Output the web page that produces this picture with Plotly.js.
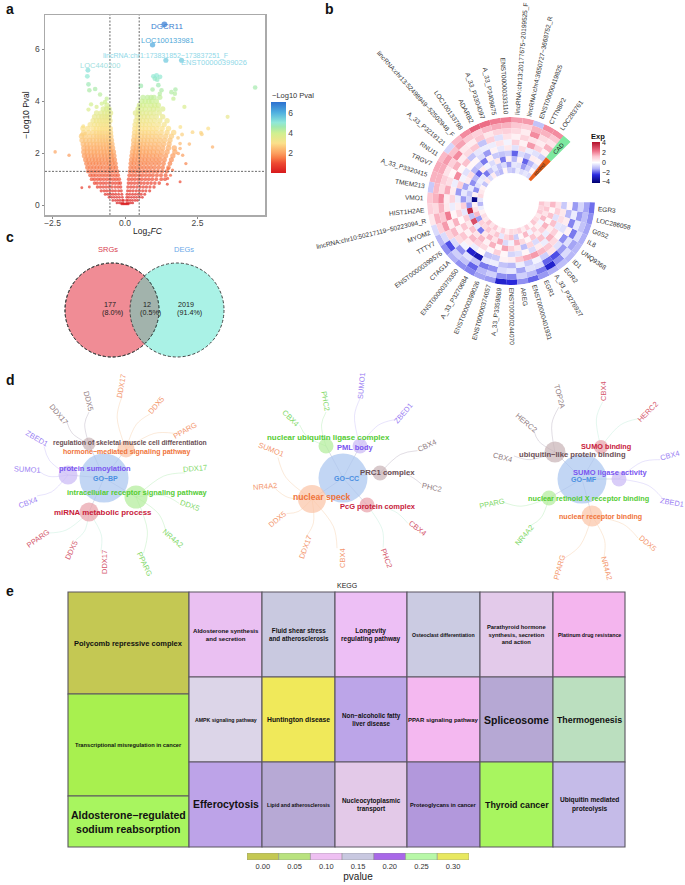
<!DOCTYPE html>
<html><head><meta charset="utf-8">
<script src="https://cdn.plot.ly/plotly-3.0.1.min.js"></script>
<style>html,body{margin:0;padding:0;background:#fff}#g{width:685px;height:885px}</style>
</head><body><div id="g"></div>
<script>
const W=685,H=885,FONT='"Liberation Sans", Arial, sans-serif';
// ---------- panel a data ----------
const volcanoRows=[
[0.04,[-0.12,-0.08,-0.04,0,0.04,0.08,0.12]],
[0.08,[-0.28,-0.2,-0.13,-0.06,0.06,0.13,0.2,0.27]],
[0.18,[-0.42,-0.33,-0.25,-0.17,-0.09,-0.05,0.05,0.1,0.18,0.26,0.35,0.43]],
[0.3,[-0.55,-0.46,-0.37,-0.28,-0.19,-0.09,0.06,0.13,0.22,0.31,0.4,0.5,0.6]],
[0.42,[-0.68,-0.59,-0.5,-0.41,-0.32,-0.22,-0.11,0.07,0.16,0.26,0.36,0.46,0.56,0.68]],
[0.55,[-0.82,-0.72,-0.63,-0.53,-0.43,-0.33,-0.22,-0.13,0.09,0.18,0.28,0.39,0.5,0.61,0.72,0.85]],
[0.7,[-0.95,-0.85,-0.75,-0.65,-0.55,-0.45,-0.34,-0.24,-0.15,0.1,0.2,0.3,0.41,0.52,0.63,0.74,0.86,1.0]],
[0.85,[-1.05,-0.96,-0.85,-0.75,-0.65,-0.54,-0.43,-0.33,-0.23,-0.16,0.12,0.22,0.33,0.44,0.55,0.66,0.78,0.9,1.03,1.18]],
[1.0,[-1.15,-1.05,-0.94,-0.84,-0.73,-0.62,-0.51,-0.4,-0.3,-0.2,0.13,0.24,0.35,0.47,0.58,0.7,0.82,0.94,1.08,1.25,1.38]],
[1.15,[-1.2,-1.1,-1.0,-0.89,-0.78,-0.67,-0.56,-0.45,-0.34,-0.24,0.15,0.26,0.37,0.49,0.6,0.72,0.84,0.96,1.1,1.24,1.4]],
[1.3,[-1.27,-1.16,-1.05,-0.94,-0.83,-0.71,-0.6,-0.49,-0.38,-0.27,0.17,0.28,0.39,0.51,0.63,0.75,0.87,1.0,1.13,1.28,1.44]],
[1.45,[-1.3,-1.19,-1.08,-0.97,-0.86,-0.75,-0.63,-0.52,-0.41,-0.31,0.19,0.3,0.41,0.53,0.65,0.77,0.89,1.02,1.16,1.3,1.5]],
[1.6,[-1.33,-1.22,-1.11,-1.0,-0.89,-0.78,-0.66,-0.55,-0.44,-0.33,0.2,0.31,0.43,0.55,0.67,0.79,0.92,1.05,1.18,1.33,1.55]],
[1.75,[-1.36,-1.25,-1.13,-1.02,-0.91,-0.8,-0.68,-0.57,-0.46,-0.36,0.22,0.33,0.45,0.57,0.69,0.81,0.94,1.07,1.2,1.36,1.6]],
[1.9,[-1.4,-1.28,-1.16,-1.05,-0.93,-0.81,-0.7,-0.59,-0.48,-0.38,0.24,0.35,0.47,0.59,0.71,0.83,0.96,1.09,1.23,1.4,1.65]],
[2.05,[-1.42,-1.3,-1.18,-1.06,-0.95,-0.83,-0.72,-0.61,-0.5,-0.4,0.26,0.37,0.49,0.61,0.73,0.85,0.98,1.12,1.27,1.45,1.72]],
[2.2,[-1.42,-1.3,-1.19,-1.07,-0.96,-0.85,-0.74,-0.63,-0.53,-0.43,0.28,0.39,0.5,0.62,0.74,0.87,1.0,1.14,1.3,1.5,1.7]],
[2.35,[-1.44,-1.32,-1.2,-1.08,-0.97,-0.86,-0.75,-0.65,-0.55,-0.45,0.3,0.41,0.52,0.64,0.76,0.89,1.03,1.17,1.33,1.52]],
[2.5,[-1.48,-1.35,-1.22,-1.1,-0.98,-0.87,-0.77,-0.67,-0.57,-0.47,0.3,0.42,0.54,0.66,0.78,0.91,1.05,1.2,1.36,1.55]],
[2.65,[-1.5,-1.38,-1.22,-1.08,-0.97,-0.87,-0.78,-0.68,-0.58,-0.49,0.32,0.44,0.56,0.68,0.8,0.93,1.07,1.22,1.4,1.6]],
[2.8,[-1.42,-1.25,-1.1,-0.98,-0.88,-0.79,-0.69,-0.59,-0.5,0.33,0.45,0.57,0.69,0.81,0.94,1.08,1.25,1.45,1.68]],
[2.95,[-1.45,-1.28,-1.1,-0.98,-0.87,-0.78,-0.69,-0.6,-0.51,0.34,0.46,0.58,0.7,0.83,0.96,1.1,1.28,1.5]],
[3.1,[-1.2,-1.05,-0.93,-0.83,-0.74,-0.65,-0.56,0.35,0.47,0.59,0.71,0.84,0.98,1.15,1.35]],
[3.25,[-1.1,-0.98,-0.88,-0.78,-0.69,-0.6,-0.52,0.38,0.5,0.62,0.74,0.87,1.02,1.2,1.45]],
[3.4,[-1.05,-0.9,-0.8,-0.7,-0.62,-0.54,0.42,0.54,0.66,0.78,0.92,1.08,1.3]],
[3.55,[-0.98,-0.82,-0.7,-0.6,-0.5,0.36,0.48,0.6,0.73,0.86,1.0,1.18]],
[3.7,[-0.75,-0.63,-0.55,0.45,0.57,0.7,0.85,0.98,1.12,1.3]],
[3.85,[-0.62,0.5,0.62,0.75,0.9,1.02,1.15]],
[4.0,[0.58,0.7,0.82,0.92,1.08]],
[4.15,[0.62,0.78,0.9,1.0,1.2]]
];
const volcanoOutliersX=[1.36,0.95,1.41,1.95,-1.28,-1.30,-1.26,-1.23,-1.03,-0.86,-1.17,-0.63,-0.69,-0.8,-0.98,-1.26,4.49,3.54,2.87,2.62,2.65,2.33,3.02,2.22,1.91,2.05,1.74,1.72,1.6,1.67,1.97,1.83,1.9,1.9,1.84,1.99,2.1,0.55,0.98,1.03,1.09,1.21,1.11,1.15,0.95,1.26,1.2,-2.41,-1.93,-1.49,-1.23,-1.44,-1.49,-1.38,1.9,1.46,1.64,1.49,1.57,1.47];
const volcanoOutliersY=[6.96,6.17,5.58,5.58,5.19,4.96,4.65,4.42,4.47,4.26,3.88,4.10,3.97,3.91,3.78,3.68,4.53,3.40,2.95,2.79,2.73,2.81,2.24,2.35,3.01,3.78,4.45,4.29,4.35,4.10,2.72,2.59,2.37,2.18,1.99,1.92,1.6,4.59,4.96,4.87,4.99,4.94,4.83,4.62,4.45,4.42,4.29,2.05,1.92,0.67,0.7,3.04,2.72,2.75,0.9,0.8,1.35,1.41,1.15,1.03];
const volcanoLabels=['DGCR11','LOC100133981','lincRNA:chr1:173831852−173837251_F','ENST00000399026','LOC440200'];
const volcanoLabelX=[1.44,1.46,1.41,3.08,-0.86];
const volcanoLabelY=[6.86,6.35,5.74,5.49,5.36];
// ---------- panel b data ----------
const heatGenes=['LOC283761','CTTN8P2','ENST00000419825','lincRNA:chr4:3650727−3668752_R','lincRNA:chr13:20177675−20199525_F','ENST00000333110','A_33_P3409675','A_33_P3304097','ADARB2','LOC100133798','lincRNA:chr13:52498949−52502948_F','A_33_P3219121','RNU11','TRGV7','A_33_P3320415','TMEM213','VMO1','HIST1H2AE','lincRNA:chr10:50217119−50223094_R','MYOM2','TTTY7','ENST00000399576','CTAG1A','ENST00000379350','A_33_P3270684','ENST00000399026','ENST00000374057','A_33_P3359869','ENST00000244070','AREG','ENST00000401931','EGR1','A_33_P3276927','EGR2','ID1','UNQ9368','IL8','G0S2','LOC286058','EGR3'];
const heatExp=[
[2,1.2,0.6,1.5,0.3,-0.8,0.3,-0.5,0.2,-0.6],
[2,1.5,0.8,0.4,1,-0.5,0.4,-1.2,-0.8,-0.4],
[-1,1.5,2,0.6,1.8,-0.3,-1,-2,-1.5,-0.6],
[1.8,1,0.4,0.9,0.3,0.8,-0.6,0.3,-0.5,-0.3],
[1.8,1.2,0.8,0.3,1,-0.5,-2,-1.2,-0.4,-1],
[2.2,1.5,1,0.6,-0.2,0.5,-0.8,0.3,-1.5,-0.8],
[2.2,1.6,0.9,-0.5,0.6,-0.4,-1,-1.8,-0.6,0.2],
[2.4,1.4,0.5,1,-0.3,0.3,-0.9,0.5,-1,-1.2],
[2.6,1,1.2,-1,-0.3,-1.5,0.3,-0.6,-0.4,-0.9],
[2,1.2,0.4,1.2,-0.4,-0.6,-1.8,-0.2,-1,0.4],
[1.4,1.7,0.5,0.8,-1,0.2,-0.9,0.4,-1.8,-0.6],
[-0.7,1.3,2,0.4,1.3,0.2,-1.2,-2,-0.4,0.5],
[1.4,1.8,1,1.5,0.2,-0.5,0.7,-1.2,-0.3,-1],
[1.6,1.6,0.6,0.2,2,-0.2,0.4,-1.6,-0.5,0.3],
[1.5,1.5,1,0.7,-0.3,1,-1.4,-0.4,-1.6,0.5],
[-0.9,1.4,0.8,1.6,0.4,-1.5,-0.4,-1,0.3,0.8],
[1.2,1.5,2,0.4,0.9,-0.3,-1.5,-0.7,-3.8,-0.4],
[1,0.8,1.5,0.5,-0.3,0.4,1,-1.5,0.3,-1.2],
[0.5,1.5,1.2,2.2,0.2,0.9,-0.4,3.6,0.6,-0.3],
[-0.6,1,1.8,0.4,1.5,0.1,1,-1,1.4,0.3],
[-1.2,-0.6,0.9,1.4,0.3,1.2,0.5,3,-1.5,0.7],
[-1.6,-2.2,-0.6,0.8,1.2,0.3,1.3,-0.4,1,0.5],
[-1.3,-0.8,-1.6,-0.2,0.4,1.4,0.6,-1.8,0.8,1.3],
[-1.6,-1,-0.5,-2.8,-0.3,1,1.4,0.5,1.2,0.6],
[-1.7,-2,-1,-3.2,0.1,0.8,0.3,1.4,0.6,1.1],
[-1.4,-1.2,-1.8,-0.4,-1,0.2,1.5,0.6,1.2,0.3],
[-1.5,-0.8,-1.6,-0.3,-0.9,1,0.2,1.6,-0.4,1],
[-2.8,-1.6,-0.6,-1,0.3,0.2,1.7,-0.6,0.9,0.3],
[-2.6,-1.7,-0.4,-1.2,0.4,-0.7,1,-0.2,1.3,0.8],
[-1.6,-0.8,-1.4,-0.3,1.2,-0.5,0.5,1.5,-0.8,0.7],
[-2,-1.2,-0.5,-0.9,1.6,0.2,-1.1,0.8,0.2,1],
[-1.5,-1.8,-0.6,-0.2,1.8,-0.6,0.9,0.2,1.4,0.4],
[-1.3,-2.8,-2,-0.8,1.4,0.4,-0.6,1.2,-0.2,1],
[-1.1,-1.6,-2.2,0.6,1.2,-0.3,1.3,0.4,1,0.2],
[-1.2,-0.6,-1.5,-0.5,0.8,1.5,-0.3,1,0.3,1.2],
[-1.2,-1.4,-0.5,-1.6,0.2,1,0.4,1.5,-0.2,0.8],
[-1.3,-0.6,-1.8,0.3,-0.5,-0.4,1.3,0.2,1.4,0.5],
[-1.4,-1,-0.4,-1.7,0.4,0.7,-0.5,1.3,0.6,1.1],
[-1.6,-1.1,-1.5,-0.3,-1.2,0.5,1,0.2,1.2,0.9],
[-1.9,-1.4,-0.7,-1.5,0.2,-0.9,0.6,1.4,0.7,1.2]
];
// ---------- panel c data ----------
const vennSets=['SRGs','DEGs'];
const vennCounts=['177','12','2019'];
const vennPercents=['(8.0%)','(0.5%)','(91.4%)'];
// ---------- panel d data: [label, nodeX, nodeY, nodeSize, labelX, labelY, labelFont, hue, genes] ; genes: [name,x,y,angle]
const goBpGroups=[
['regulation of skeletal muscle cell differentiation',89,444,13,130,443,6.8,'brown',[['DDX17',59,414,50],['DDX5',89,401,75]]],
['hormone−mediated signaling pathway',126,449,17,126,452,7,'orange',[['DDX17',121,386,-80],['DDX5',156,405,-50],['PPARG',185,430,-30]]],
['protein sumoylation',68,475,19,95,468,7.5,'purple',[['ZBED1',37,438,30],['SUMO1',27,469,3],['CBX4',28,502,-20]]],
['intracellular receptor signaling pathway',136,497,23,137,492,7.4,'green',[['DDX17',195,468,-5],['DDX5',190,505,20],['NR4A2',173,538,40],['PPARG',145,564,65]]],
['miRNA metabolic process',89,512,19,103,512,7.9,'red',[['PPARG',38,538,-35],['DDX5',71,550,-65],['DDX17',104,562,-90]]]
];
const goCcGroups=[
['nuclear ubiquitin ligase complex',326,446,15,328,437,7.9,'green',[['PHC2',326,401,80],['CBX4',291,418,45]]],
['PML body',360,446,15,355,447,7.5,'purple',[['SUMO1',361,386,-85],['ZBED1',403,413,-50]]],
['PRC1 complex',380,473,15,387,472,7.8,'brown',[['CBX4',427,445,-25],['PHC2',432,487,12]]],
['PcG protein complex',367,505,15,378,506,7.5,'red',[['CBX4',418,528,38],['PHC2',387,558,70]]],
['nuclear speck',312,499,28,322,497,8.6,'orange',[['CBX4',342,558,-90],['DDX17',305,547,-70],['DDX5',277,519,-40],['NR4A2',265,486,-5],['SUMO1',271,449,22]]]
];
const goMfGroups=[
['SUMO binding',601,447,14,606,446,7.3,'red',[['CBX4',603,391,-90],['HERC2',647,412,-45]]],
['ubiquitin−like protein binding',555,452,21,572,454,7.6,'brown',[['TOP2A',560,396,75],['HERC2',526,422,40],['CBX4',503,457,15]]],
['SUMO ligase activity',619,479,15,610,472,7.5,'purple',[['CBX4',670,455,-15],['ZBED1',672,502,10]]],
['nuclear retinoid X receptor binding',549,498,15,588,498,7.3,'green',[['PPARG',492,503,-12],['NR4A2',524,535,-50]]],
['nuclear receptor binding',592,516,21,600,517,7.1,'orange',[['PPARG',559,567,-75],['NR4A2',607,568,75],['DDX5',648,543,40]]]
];
const goCenters=[['GO−BP',104,478,105,478],['GO−CC',343,478,346,478],['GO−MF',582,479,584,479]];
// ---------- panel e data ----------
const keggColumns=[
['Polycomb repressive complex','Transcriptional misregulation in cancer','Aldosterone−regulated<br>sodium reabsorption'],
['Aldosterone synthesis<br>and secretion','AMPK signaling pathway','Efferocytosis'],
['Fluid shear stress<br>and atherosclerosis','Huntington disease','Lipid and atherosclerosis'],
['Longevity<br>regulating pathway','Non−alcoholic fatty<br>liver disease','Nucleocytoplasmic<br>transport'],
['Osteoclast differentiation','PPAR signaling pathway','Proteoglycans in cancer'],
['Parathyroid hormone<br>synthesis, secretion<br>and action','Spliceosome','Thyroid cancer'],
['Platinum drug resistance','Thermogenesis','Ubiquitin mediated<br>proteolysis']
];
const keggColors=[
['#c4c853','#a8f04f','#a8f55f'],['#eac0f2','#dcd5e8','#bda3e8'],['#c9c9e0','#f0e95a','#b7a9d5'],
['#edbff5','#bca5e8','#e3c9e8'],['#cbcbe2','#f4b8f0','#b298dc'],['#e3caea','#b6a8d4','#a8f55f'],['#f4b5ee','#bbdfbf','#c5bbe8']
];
const keggFonts=[[7.5,5.7,10.5],[6.1,5.2,10.4],[6.3,6.8,5.2],[6.5,6.3,6.4],[5.2,6,5.7],[5.8,10.5,8.9],[5.3,8.8,6.6]];
const pvalueTicks=[0,0.05,0.10,0.15,0.20,0.25,0.30];
const pvalueColors=['#c4c853','#b9e27f','#eec0f2','#c8c8e0','#a868e8','#b8f8a8','#e8e860'];
// ---------- layout geometry ----------
const keggColEdges=[68,189,262,335,407,480,553,625];
const keggRowEdges=[[592,694,796,847],[592,677,762,847],[592,677,762,847],[592,677,762,847],[592,677,762,847],[592,677,762,847],[592,677,762,847]];
const heatCx=511,heatCy=201,heatOuter=84,heatInner=28,heatStart=51,heatStep=7.7;
const hues={brown:['#6b4f55','#c8b2b5','rgba(120,100,130,0.28)'],orange:['#f0743a','#fbc3a5','rgba(240,180,120,0.35)'],purple:['#7a55f0','#c9b8f5','rgba(140,120,240,0.25)'],green:['#55cc33','#b0ec98','rgba(120,220,120,0.3)'],red:['#c8203a','#e8a0a8','rgba(130,220,180,0.28)']};
const domX=(a,b)=>[a/W,b/W], domY=(a,b)=>[1-b/H,1-a/H];
const ann=[],shapes=[],traces=[];
function label(x,y,t,size,color,opts){ann.push(Object.assign({x,y,text:t,xref:'x2',yref:'y2',showarrow:false,xanchor:'center',yanchor:'middle',font:{family:FONT,size,color},align:'center'},opts||{}));}
// ---------- a ----------
const vx=[],vy=[];
volcanoRows.forEach(r=>r[1].forEach(x=>{vx.push(x);vy.push(r[0]);}));
const volcanoScale=[[0,'#d7191c'],[0.14,'#ee4a32'],[0.21,'#f77a45'],[0.28,'#fca060'],[0.42,'#fbe08a'],[0.56,'#d0f090'],[0.65,'#a0e8b0'],[0.71,'#90e8d8'],[0.85,'#50b0e0'],[1,'#2c70d0']];
traces.push({type:'scatter',mode:'markers',x:vx,y:vy,xaxis:'x',yaxis:'y',hoverinfo:'skip',showlegend:false,
 marker:{color:vy,cmin:0,cmax:7.06,colorscale:volcanoScale,size:vy.map(v=>Math.min(5.4,2.4+1.5*v)),line:{width:0},
 colorbar:{x:271/W,xanchor:'left',y:1-173/H,yanchor:'bottom',len:70.5,lenmode:'pixels',thickness:15,thicknessmode:'pixels',outlinewidth:0,tickvals:[2,4,6],ticks:'',xpad:0,ypad:0,tickfont:{family:FONT,size:8.5,color:'#444'}}}});
traces.push({type:'scatter',mode:'markers',x:volcanoOutliersX,y:volcanoOutliersY,xaxis:'x',yaxis:'y',hoverinfo:'skip',showlegend:false,
 marker:{color:volcanoOutliersY,cmin:0,cmax:7.06,colorscale:volcanoScale,size:volcanoOutliersY.map(v=>2.6+0.45*v),line:{width:0},showscale:false}});
[[0,'#3a80d0',8],[1,'#4fa8d8',7.5],[2,'#8fd8e8',7],[3,'#8fd8e8',7.5],[4,'#9fe0e0',7.5]].forEach(([i,c,s])=>{
 ann.push({x:volcanoLabelX[i],y:volcanoLabelY[i],xref:'x',yref:'y',text:volcanoLabels[i],showarrow:false,font:{family:FONT,size:s,color:c}});});
[-0.52,0.49].forEach(v=>shapes.push({type:'line',xref:'x',yref:'y',x0:v,x1:v,y0:-0.38,y1:7.32,line:{color:'#444',width:0.8,dash:'2px,1.5px'}}));
shapes.push({type:'line',xref:'x',yref:'y',x0:-2.76,x1:4.83,y0:1.3,y1:1.3,line:{color:'#444',width:0.8,dash:'2px,1.5px'}});
label(293,95,'−Log10 Pval',7.5,'#333');
label(148,231,'Log<sub>2</sub><i>FC</i>',8.5,'#222');
// ---------- b ----------
const nGene=heatGenes.length,nRing=heatExp[0].length,ringT=(heatOuter-heatInner)/nRing;
const ht=[],hb=[],hc=[];
heatExp.forEach((row,g)=>row.forEach((v,k)=>{ht.push(heatStart+heatStep*(g+0.5));hb.push(heatOuter-ringT*(k+1));hc.push(v);}));
traces.push({type:'barpolar',subplot:'polar',theta:ht,base:hb,r:ht.map(()=>ringT),width:ht.map(()=>heatStep),hoverinfo:'skip',showlegend:false,
 marker:{color:hc,cmin:-4.2,cmax:4.2,colorscale:[[0,'#00006e'],[0.2,'#2a2ae0'],[0.35,'#b4b4f8'],[0.5,'#ffffff'],[0.65,'#fcc4d0'],[0.78,'#ee7088'],[1,'#b2102a']],line:{width:0},
 colorbar:{x:592/W,xanchor:'left',y:1-183/H,yanchor:'bottom',len:41,lenmode:'pixels',thickness:8,thicknessmode:'pixels',outlinewidth:0,tickvals:[-4,-2,0,2,4],ticktext:['−4','−2','0','2','4'],ticks:'',xpad:0,ypad:0,tickfont:{family:FONT,size:7,color:'#222'}}}});
traces.push({type:'barpolar',subplot:'polar',theta:[48,48],base:[heatOuter-ringT*5,heatInner],r:[ringT*5,ringT*5],width:[6.5,6.5],hoverinfo:'skip',showlegend:false,
 marker:{color:['#7de8a0','#e8601c'],line:{width:0}}});
const meas=document.createElement('canvas').getContext('2d');
heatGenes.forEach((g,i)=>{
 const th=heatStart+heatStep*(i+0.5),rad=th*Math.PI/180,c=Math.cos(rad),s=Math.sin(rad);
 meas.font='6.5px "Liberation Sans"';
 const r=heatOuter+3+meas.measureText(g).width/2;
 label(heatCx+r*c,heatCy-r*s,g,6.5,'#333',{textangle:c>=0?-th:180-th});
});
label(heatCx+70.5*Math.cos(48*Math.PI/180),heatCy-70.5*Math.sin(48*Math.PI/180),'CAD',6,'#222',{textangle:-48});
label(heatCx+42.5*Math.cos(48*Math.PI/180),heatCy-42.5*Math.sin(48*Math.PI/180),'control',5,'#222',{textangle:-48});
label(598,136,'<b>Exp</b>',7.5,'#111');
// ---------- c ----------
shapes.push({type:'circle',xref:'x2',yref:'y2',x0:65,x1:159,y0:263,y1:357,fillcolor:'#f08c95',line:{color:'#444',width:1,dash:'3px,2px'}});
shapes.push({type:'circle',xref:'x2',yref:'y2',x0:130,x1:224,y0:263,y1:357,fillcolor:'rgba(66,226,200,0.45)',line:{color:'#444',width:1,dash:'3px,2px'}});
shapes.push({type:'circle',xref:'x2',yref:'y2',x0:65,x1:159,y0:263,y1:357,fillcolor:'rgba(0,0,0,0)',line:{color:'#444',width:1,dash:'3px,2px'}});
label(108,249.5,vennSets[0],7.5,'#d8404f');label(184,249.5,vennSets[1],7.5,'#6aa8e8');
[[110,112],[147,150],[186,189]].forEach(([a,b],i)=>{label(a,304.5,vennCounts[i],7.2,'#222');label(b,312.5,vennPercents[i],7.2,'#222');});
// ---------- d ----------
[goBpGroups,goCcGroups,goMfGroups].forEach((groups,ci)=>{
 const ctr=goCenters[ci];
 const sx=[],sy=[],ex={},nx=[ctr[1]],ny=[ctr[2]],ns=[49],nc=['#a8c4ef'];
 groups.forEach(gr=>{
  sx.push(ctr[1],gr[1],null);sy.push(ctr[2],gr[2],null);
  nx.push(gr[1]);ny.push(gr[2]);ns.push(gr[3]);nc.push(hues[gr[7]][1]);
  const e=ex[gr[7]]={x:[],y:[]};
  gr[8].forEach(g=>{
   const dx=g[1]-gr[1],dy=g[2]-gr[2],d=Math.hypot(dx,dy),end=(d-11)/d;
   const mx=gr[1]+dx*end*0.62+dy*0.1,my=gr[2]+dy*end*0.62-dx*0.1;
   e.x.push(gr[1],mx,gr[1]+dx*end,null);e.y.push(gr[2],my,gr[2]+dy*end,null);
   label(g[1],g[2],g[0],7.5,hues[gr[7]][0],{textangle:g[3],opacity:0.75});
  });
 });
 traces.push({type:'scatter',mode:'lines',x:sx,y:sy,xaxis:'x2',yaxis:'y2',hoverinfo:'skip',showlegend:false,line:{color:'rgba(110,120,170,0.35)',width:0.7}});
 Object.keys(ex).forEach(h=>traces.push({type:'scatter',mode:'lines',x:ex[h].x,y:ex[h].y,xaxis:'x2',yaxis:'y2',hoverinfo:'skip',showlegend:false,line:{color:hues[h][2],width:0.8,shape:'spline'}}));
 traces.push({type:'scatter',mode:'markers',x:nx,y:ny,xaxis:'x2',yaxis:'y2',hoverinfo:'skip',showlegend:false,marker:{size:ns,color:nc,line:{width:0}}});
 groups.forEach(gr=>label(gr[4],gr[5],'<b>'+gr[0]+'</b>',gr[6],hues[gr[7]][0]));
 label(ctr[3],ctr[4],'<b>'+ctr[0]+'</b>',7,'#4a90e2');
});
// ---------- e ----------
const bx=[],bw=[],bb=[],bh=[],bc=[];
keggColumns.forEach((col,i)=>col.forEach((t,j)=>{
 const x0=keggColEdges[i],x1=keggColEdges[i+1],y0=keggRowEdges[i][j],y1=keggRowEdges[i][j+1];
 bx.push((x0+x1)/2);bw.push(x1-x0);bb.push(y0);bh.push(y1-y0);bc.push(keggColors[i][j]);
 label((x0+x1)/2,(y0+y1)/2,'<b>'+t+'</b>',keggFonts[i][j],'#111');
}));
traces.push({type:'bar',x:bx,y:bh,base:bb,width:bw,xaxis:'x2',yaxis:'y2',hoverinfo:'skip',showlegend:false,marker:{color:bc,line:{color:'#5a5560',width:1.1}}});
label(347,585,'KEGG',7,'#222');
traces.push({type:'bar',x:pvalueTicks,y:pvalueTicks.map(()=>1),width:pvalueTicks.map(()=>0.05),xaxis:'x4',yaxis:'y4',hoverinfo:'skip',showlegend:false,marker:{color:pvalueColors,line:{color:'#888',width:0.5}}});
// letters
[['a',10,9],['b',329,9],['c',10,237],['d',10,380],['e',10,591]].forEach(([t,x,y])=>label(x,y,'<b>'+t+'</b>',14,'#111'));

const layout={width:W,height:H,margin:{l:0,r:0,t:0,b:0},paper_bgcolor:'#fff',plot_bgcolor:'rgba(0,0,0,0)',font:{family:FONT},showlegend:false,barmode:'overlay',dragmode:false,
 xaxis:{domain:domX(45,265),range:[-2.76,4.83],anchor:'y',tickvals:[-2.5,0,2.5],ticktext:['−2.5','0.0','2.5'],ticks:'outside',ticklen:2,ticklabelstandoff:-3,tickcolor:'#888',showgrid:false,zeroline:false,showline:true,mirror:true,linecolor:'#aaa',linewidth:1.5,tickfont:{size:8.5,color:'#444',family:FONT}},
 yaxis:{domain:domY(15,215),range:[-0.38,7.32],anchor:'x',tickvals:[0,2,4,6],ticks:'outside',ticklen:2,tickcolor:'#888',showgrid:false,zeroline:false,showline:true,mirror:true,linecolor:'#aaa',linewidth:1.5,tickfont:{size:8.5,color:'#444',family:FONT},title:{text:'−Log10 Pval',font:{size:8.5,color:'#222',family:FONT},standoff:4}},
 xaxis2:{domain:[0,1],range:[0,W],anchor:'y2',visible:false,fixedrange:true},
 yaxis2:{domain:[0,1],range:[H,0],anchor:'x2',visible:false,fixedrange:true},
 xaxis4:{domain:domX(247,469),range:[-0.025,0.325],anchor:'y4',tickvals:pvalueTicks,ticktext:pvalueTicks.map(v=>v.toFixed(2)),ticks:'',showgrid:false,zeroline:false,showline:false,tickfont:{size:7.5,color:'#333',family:FONT},title:{text:'pvalue',font:{size:10,color:'#222',family:FONT},standoff:2}},
 yaxis4:{domain:domY(853,860),range:[0,1],anchor:'x4',visible:false},
 polar:{domain:{x:domX(heatCx-heatOuter,heatCx+heatOuter),y:domY(heatCy-heatOuter,heatCy+heatOuter)},bgcolor:'rgba(0,0,0,0)',
  radialaxis:{visible:false,range:[0,heatOuter]},angularaxis:{visible:false,direction:'counterclockwise',rotation:0}},
 annotations:ann,shapes:shapes};
Plotly.newPlot('g',traces,layout,{staticPlot:true,displayModeBar:false});
</script></body></html>
